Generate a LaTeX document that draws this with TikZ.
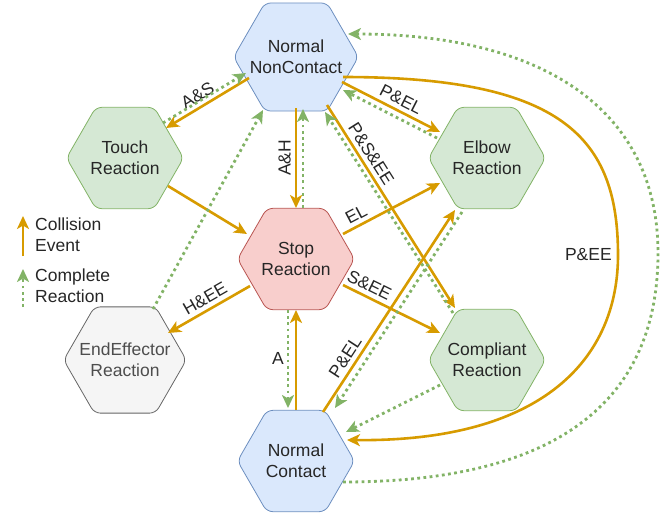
\documentclass[tikz,border=0pt]{standalone}
\usepackage{fontspec}
\setmainfont{Liberation Sans}
\usepackage[HTML]{xcolor}
\usetikzlibrary{shapes.geometric, arrows.meta}

\definecolor{eventorange}{HTML}{D79B00}
\definecolor{donegreen}{HTML}{82B366}
\definecolor{bluefill}{HTML}{DAE8FC}
\definecolor{bluestroke}{HTML}{6C8EBF}
\definecolor{greenfill}{HTML}{D5E8D4}
\definecolor{redfill}{HTML}{F8CECC}
\definecolor{redstroke}{HTML}{B85450}
\definecolor{grayfill}{HTML}{F5F5F5}
\definecolor{graystroke}{HTML}{666666}

\begin{document}
\begin{tikzpicture}[x=1pt, y=-1pt,
  hex/.style={regular polygon, regular polygon sides=6, minimum size=117pt,
    inner sep=-8pt, outer sep=0pt, draw, line width=0.8pt, rounded corners=6pt,
    align=center, font=\fontsize{17.5}{21}\selectfont, text=black!85},
  bluehex/.style={hex, fill=bluefill, draw=bluestroke},
  greenhex/.style={hex, fill=greenfill, draw=donegreen},
  redhex/.style={hex, fill=redfill, draw=redstroke},
  grayhex/.style={hex, fill=grayfill, draw=graystroke, text=black!70},
  collision/.style={eventorange, line width=2.6pt,
    -{Stealth[length=13pt, width=12pt, inset=3.5pt]}},
  completed/.style={donegreen, line width=2.8pt, dash pattern=on 2.8pt off 3.4pt,
    -{Stealth[length=13pt, width=12pt, inset=3.5pt]}},
  lbl/.style={text=black!85, font=\fontsize{17.5}{21}\selectfont, inner sep=4pt}
]
\useasboundingbox (0,0) rectangle (669,515);

% States
\node[bluehex]  (nc) at (296,57)  {Normal\\NonContact};
\node[greenhex] (tr) at (125,158) {Touch\\Reaction};
\node[greenhex] (el) at (487,158) {Elbow\\Reaction};
\node[redhex]   (st) at (296,259) {Stop\\Reaction};
\node[grayhex]  (ee) at (125,360) {EndEffector\\Reaction};
\node[greenhex] (co) at (487,360) {Compliant\\Reaction};
\node[bluehex]  (ct) at (296,461) {Normal\\Contact};

% Legend
\coordinate (colbot) at (23,256);
\coordinate (coltop) at (23,216);
\coordinate (donebot) at (23,307);
\coordinate (donetop) at (23,269);
\draw[collision] (colbot) -- (coltop);
\draw[completed] (donebot) -- (donetop);
\node[lbl, anchor=west, align=left] (colkey) at (31,235) {Collision\\Event};
\node[lbl, anchor=west, align=left] (donekey) at (31,286) {Complete\\Reaction};

% Collision events
\draw[collision] ([shift={(-47,21)}]nc.center) -- node[lbl, pos=.55, sloped, above] {A\&S} ([shift={(41,-30)}]tr.center);
\draw[collision] ([shift={(43,28)}]tr.center) -- ([shift={(-49,-25)}]st.center);
\draw[collision] ([shift={(0,51)}]nc.center) -- node[lbl, pos=.5, rotate=90, above] {A\&H} ([shift={(0,-51)}]st.center);
\draw[collision] ([shift={(31,48)}]nc.center) -- node[lbl, pos=.27, sloped, above] {P\&S\&EE} ([shift={(-32,-52)}]co.center);
\draw[collision] ([shift={(46,25)}]nc.center) -- node[lbl, pos=.55, sloped, above] {P\&EL} ([shift={(-47,-26)}]el.center);
\draw[collision] ([shift={(47,-25)}]st.center) -- node[lbl, pos=.19, sloped, above] {EL} ([shift={(-47,25)}]el.center);
\draw[collision] ([shift={(47,26)}]st.center) -- node[lbl, pos=.22, sloped, above] {S\&EE} ([shift={(-47,-27)}]co.center);
\draw[collision] ([shift={(-46,27)}]st.center) -- node[lbl, pos=.48, sloped, above] {H\&EE} ([shift={(43,-27)}]ee.center);
\draw[collision] ([shift={(0,-51)}]ct.center) -- node[lbl, pos=.52, left=7pt] {A} ([shift={(0,51)}]st.center);
\draw[collision] ([shift={(27,-49)}]ct.center) -- node[lbl, pos=.24, sloped, above] {P\&EL} ([shift={(-32,52)}]el.center);
\draw[collision] ([shift={(47,20)}]nc.center) .. controls (563,77) and (618,138) .. (618,255)
  node[lbl, left=1pt] {P\&EE}
  .. controls (618,357) and (545,442) .. ([shift={(51,-21)}]ct.center);

% Completed reactions
\draw[completed] ([shift={(38,-35)}]tr.center) -- ([shift={(-50,16)}]nc.center);
\draw[completed] ([shift={(7,-51)}]st.center) -- ([shift={(7,52)}]nc.center);
\draw[completed] ([shift={(28,-51)}]ee.center) -- ([shift={(-33,53)}]nc.center);
\draw[completed] ([shift={(-34,-47)}]co.center) -- ([shift={(29,55)}]nc.center);
\draw[completed] ([shift={(-50,-20)}]el.center) -- ([shift={(47,33)}]nc.center);
\draw[completed] ([shift={(-8,51)}]st.center) -- ([shift={(-8,-53)}]ct.center);
\draw[completed] ([shift={(-25,54)}]el.center) -- ([shift={(39,-53)}]ct.center);
\draw[completed] ([shift={(-47,25)}]co.center) -- ([shift={(50,-29)}]ct.center);
\draw[completed] ([shift={(47,21)}]ct.center) .. controls (515,482) and (658,430) .. (658,253)
  .. controls (658,113) and (548,34) .. ([shift={(52,-23)}]nc.center);
\end{tikzpicture}
\end{document}
